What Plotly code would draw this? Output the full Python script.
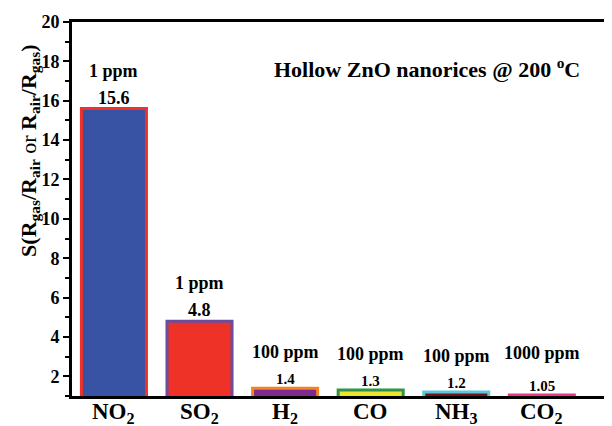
import plotly.graph_objects as go

gases = ["NO<sub>2</sub>", "SO<sub>2</sub>", "H<sub>2</sub>", "CO", "NH<sub>3</sub>", "CO<sub>2</sub>"]
response = [15.6, 4.8, 1.4, 1.3, 1.2, 1.05]
value_labels = ["15.6", "4.8", "1.4", "1.3", "1.2", "1.05"]
concentrations = ["1 ppm", "1 ppm", "100 ppm", "100 ppm", "100 ppm", "1000 ppm"]
fill_colors = ["#3953A4", "#EE3228", "#7D2B8E", "#EDE42C", "#6E1518", "#E8388A"]
line_colors = ["#EE3228", "#6B4D9E", "#F58220", "#2E9447", "#5BC8DE", "#E8388A"]

FONT = "Times New Roman, Liberation Serif, serif"
xs = list(range(len(gases)))

fig = go.Figure()
fig.add_trace(go.Bar(
    x=xs, y=response, width=0.76,
    marker=dict(color=fill_colors, line=dict(color=line_colors, width=3)),
    showlegend=False,
))

for i, (v, lab, conc) in enumerate(zip(response, value_labels, concentrations)):
    big = v > 2
    fig.add_annotation(x=i, y=v, text=f"<b>{lab}</b>", showarrow=False,
                       yanchor="bottom", yshift=-1,
                       font=dict(family=FONT, size=18 if big else 15, color="black"))
    fig.add_annotation(x=i, y=v, text=f"<b>{conc}</b>", showarrow=False,
                       yanchor="bottom", yshift=26 if big else 24 + (0 if v > 1.1 else 6),
                       font=dict(family=FONT, size=18, color="black"))
    fig.add_annotation(x=i, yref="paper", y=0, text=f"<b>{gases[i]}</b>", showarrow=False,
                       yanchor="top", yshift=-1,
                       font=dict(family=FONT, size=23, color="black"))

fig.add_annotation(xref="paper", yref="paper", x=0.657, y=0.877, xanchor="center", yanchor="middle",
                   text="<b>Hollow ZnO nanorices @ 200 <sup>o</sup>C</b>", showarrow=False,
                   font=dict(family=FONT, size=22, color="black"))

fig.add_annotation(xref="paper", yref="paper", x=-0.078, y=0.655, textangle=-90,
                   xanchor="center", yanchor="middle",
                   text="<b>S(R<sub>gas</sub>/R<sub>air</sub></b> or <b>R<sub>air</sub>/R<sub>gas</sub>)</b>",
                   showarrow=False, font=dict(family=FONT, size=22, color="black"))

fig.update_layout(
    width=604, height=418,
    margin=dict(l=64, r=0, t=14, b=30),
    paper_bgcolor="white", plot_bgcolor="white",
)
fig.update_xaxes(
    range=[-0.49, 5.82], tickmode="array", tickvals=xs, showticklabels=False,
    showline=True, linecolor="black", linewidth=3, mirror=True, ticks="",
    showgrid=False, zeroline=False, automargin=False,
)
fig.update_yaxes(
    range=[1, 20], tickmode="array", tickvals=list(range(2, 21, 2)),
    ticktext=[f"<b>{t}</b>" for t in range(2, 21, 2)],
    showline=True, linecolor="black", linewidth=3, ticks="outside", ticklen=6, tickwidth=2,
    tickcolor="black", automargin=False,
    minor=dict(tickvals=list(range(1, 20, 2)), ticks="outside", ticklen=4, tickwidth=2, tickcolor="black"),
    showgrid=False, zeroline=False,
    tickfont=dict(family=FONT, size=18, color="black"),
)

fig.write_html("out.html")
